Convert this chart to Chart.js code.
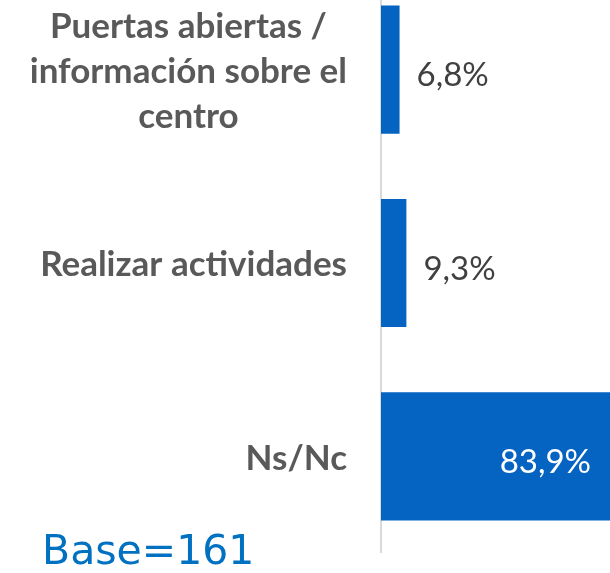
<!DOCTYPE html>
<html>
<head>
<meta charset="utf-8">
<script src="https://cdn.jsdelivr.net/npm/chart.js@4/dist/chart.umd.min.js"></script>
<style>
  html, body { margin: 0; padding: 0; background: #fff; overflow: hidden; }
  #wrap { position: relative; width: 610px; height: 573px; }
  #chart { position: absolute; left: 0; top: -27px; }
  #base {
    position: absolute; left: 42px; top: 526px;
    font-family: "DejaVu Sans", Verdana, sans-serif;
    font-size: 41px; color: #0070c0; line-height: 48px;
  }
</style>
</head>
<body>
<div id="wrap">
  <canvas id="chart" width="610" height="580"></canvas>
  <div id="base">Base=161</div>
</div>
<script>
const categories = [
  ["Puertas abiertas /", "información sobre el", "centro"],
  ["Realizar actividades"],
  ["Ns/Nc"]
];
const values = [6.8, 9.3, 83.9];

const fmt = (v) => v.toFixed(1).replace(".", ",") + "%";

// category labels: block right-aligned next to the axis, lines centred inside the block
const categoryLabels = {
  id: "categoryLabels",
  afterDraw(chart) {
    const ctx = chart.ctx;
    const yScale = chart.scales.y;
    const right = yScale.right - 34;
    const lineH = 45;
    ctx.save();
    ctx.font = "bold 35px Lato, sans-serif";
    ctx.fillStyle = "#595959";
    ctx.textAlign = "center";
    ctx.textBaseline = "middle";
    categories.forEach((lines, i) => {
      const y = yScale.getPixelForTick(i) + 2;
      const blockW = Math.max(...lines.map((l) => ctx.measureText(l).width));
      const cx = right - blockW / 2;
      const top = y - ((lines.length - 1) * lineH) / 2;
      lines.forEach((l, j) => ctx.fillText(l, cx, top + j * lineH));
    });
    ctx.restore();
  }
};

const valueLabels = {
  id: "valueLabels",
  afterDatasetsDraw(chart) {
    const ctx = chart.ctx;
    const meta = chart.getDatasetMeta(0);
    ctx.save();
    ctx.font = "33px Lato, sans-serif";
    ctx.textBaseline = "middle";
    meta.data.forEach((bar, i) => {
      const w = bar.x - bar.base;
      const text = fmt(values[i]);
      if (w > 100) {
        ctx.fillStyle = "#ffffff";
        ctx.textAlign = "right";
        ctx.fillText(text, bar.x - 19, bar.y + 6);
      } else {
        ctx.fillStyle = "#404040";
        ctx.textAlign = "left";
        ctx.fillText(text, bar.x + 17, bar.y + 6);
      }
    });
    ctx.restore();
  }
};

new Chart(document.getElementById("chart"), {
  type: "bar",
  data: {
    labels: categories,
    datasets: [{
      data: values,
      backgroundColor: "#0563c1",
      categoryPercentage: 1,
      barPercentage: 0.663
    }]
  },
  options: {
    indexAxis: "y",
    responsive: false,
    animation: false,
    layout: { padding: 0 },
    plugins: { legend: { display: false }, tooltip: { enabled: false } },
    scales: {
      x: { display: false, min: 0, max: 83.9 },
      y: {
        afterFit: (scale) => {
          scale.width = 381;
          scale.paddingTop = 0;
          scale.paddingBottom = 0;
        },
        grid: { display: false, drawTicks: false },
        border: { display: true, color: "#d9d9d9", width: 2 },
        ticks: { display: false }
      }
    }
  },
  plugins: [categoryLabels, valueLabels]
});
</script>
</body>
</html>
